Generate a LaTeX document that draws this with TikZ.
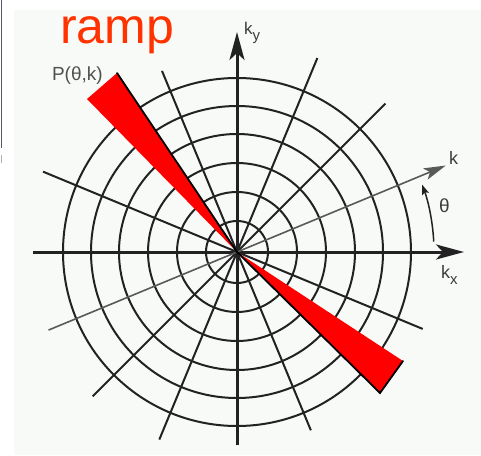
\documentclass[tikz,border=0pt]{standalone}
\usepackage{fontspec}
\setmainfont{Liberation Sans}
\usetikzlibrary{arrows.meta}
\definecolor{ink}{HTML}{222222}
\definecolor{labelgray}{HTML}{3C3C3C}
\definecolor{pgray}{HTML}{505050}
\definecolor{rampred}{HTML}{FF3300}
\definecolor{bgtint}{HTML}{F8FAF8}
\definecolor{framegray}{HTML}{5A5468}
\begin{document}
\begin{tikzpicture}[x=1pt,y=-1pt,
  gridline/.style={draw=ink, line width=2pt},
  axisline/.style={draw=ink, line width=3pt, -{Stealth[length=28pt,width=15pt,inset=7pt]}},
  kline/.style={draw=ink!75, line width=1.6pt, -{Stealth[length=22pt,width=12pt,inset=5pt]}},
  anglearrow/.style={draw=ink, line width=1.5pt, -{Stealth[length=10pt,width=7pt,inset=2pt]}},
  lab/.style={inner sep=0pt, outer sep=0pt, anchor=base west, text=labelgray},
  rampfill/.style={fill=red},
  rampedge/.style={draw=black, line width=1.8pt, line cap=round}]
\useasboundingbox (0,0) rectangle (481,455);
\fill[bgtint] (14,10) rectangle (481,455);
\draw[framegray, line width=1.2pt] (1.5,0) -- (1.5,148);
\draw[framegray!50, line width=1pt] (1.5,155) -- (1.5,163);
\coordinate (O) at (237,252);
% circles
\foreach \r in {31,60,89,118,146,174}
  \draw[gridline] (O) circle[radius=\r];
% spokes
\foreach \a/\p/\q in {45/210/204, 67.5/210/203, 112.5/196/193, 157.5/210/201}
  \draw[gridline] ([shift={(-\a:\p)}]O) -- ([shift={(180-\a:\q)}]O);
% axes
\coordinate (xs) at (33,252);
\coordinate (xe) at (464,252);
\coordinate (ys) at (237,445);
\coordinate (ye) at (237,32);
\draw[axisline] (xs) -- (xe);
\draw[axisline] (ys) -- (ye);
% k line
\coordinate (ks) at ([shift={(157.5:204)}]O);
\coordinate (ke) at ([shift={(-22.5:226)}]O);
\draw[kline] (ks) -- (ke);
% theta arc
\coordinate (ths) at ([shift={(-3:197)}]O);
\draw[anglearrow] (ths) arc[start angle=-3, end angle=-20, radius=197];
% ramp
\coordinate (ua) at (117,73);
\coordinate (ub) at (87,99);
\coordinate (la) at (403,361);
\coordinate (lb) at (380,393);
\fill[rampfill] (O) -- (ua) -- (ub) -- cycle;
\fill[rampfill] (O) -- (la) -- (lb) -- cycle;
\draw[rampedge] (ua) -- (O) -- (lb) -- (la);
% labels
\node[lab, text=rampred, font=\fontsize{50}{50}\selectfont] (ramp) at (60,43) {ramp};
\node[lab, text=pgray, font=\fontsize{19}{19}\selectfont] (P) at (52,80) {P(θ,k)};
\node[lab, font=\fontsize{17}{17}\selectfont] (ky) at (244,34) {k\raisebox{-6pt}{\fontsize{15}{15}\selectfont y}};
\node[lab, font=\fontsize{18}{18}\selectfont] (kx) at (441,278) {k\raisebox{-6pt}{\fontsize{15}{15}\selectfont x}};
\node[lab, font=\fontsize{18}{18}\selectfont] (k) at (449,164) {k};
\node[lab, font=\fontsize{19}{19}\selectfont] (theta) at (439,212) {θ};
\end{tikzpicture}
\end{document}
